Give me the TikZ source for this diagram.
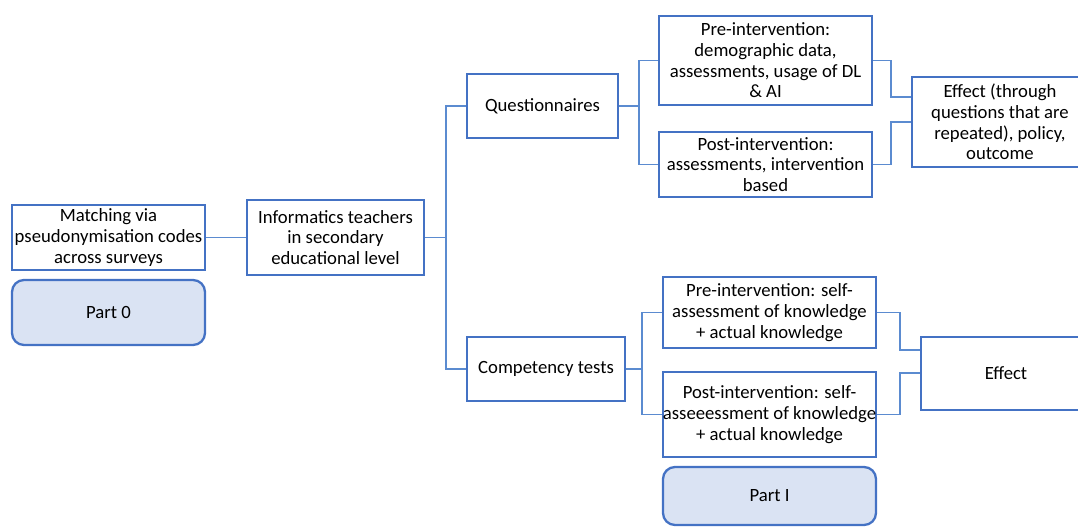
\documentclass[tikz,border=0pt]{standalone}
\usepackage{fontspec}
\setmainfont{Carlito}
\usepackage{tikz}

\definecolor{boxblue}{RGB}{68,114,196}
\definecolor{linkblue}{RGB}{91,139,208}
\definecolor{partfill}{RGB}{218,227,243}

\begin{document}
\begin{tikzpicture}[
		x=1pt, y=-1pt,
		every node/.style={rectangle, draw=boxblue, line width=2.3pt, inner sep=0pt, align=center,
			font=\fontsize{18.7}{20.7}\selectfont},
		partbox/.style={rounded corners=12pt, fill=partfill},
		link/.style={draw=linkblue, line width=1.2pt}
	]
  \useasboundingbox (0,0) rectangle (1078,527);
  \node (match) [minimum width=193pt, minimum height=65pt] at (108.5, 237.5) {Matching via\\pseudonymisation codes\\across surveys};
  \node (part0) [partbox, minimum width=193pt, minimum height=65pt] at (108.5, 312.5) {Part 0};
  \node (teachers) [minimum width=177pt, minimum height=75pt] at (335.5, 237.5) {Informatics teachers\\in secondary\\educational level};
  \node (quest) [minimum width=151pt, minimum height=64pt] at (542.5, 106) {Questionnaires};
  \node (compt) [minimum width=158pt, minimum height=64pt] at (546, 369) {Competency tests};
  \node (preq) [minimum width=213pt, minimum height=89pt] at (765.5, 60.5) {Pre-intervention:\\demographic data,\\assessments, usage of DL\\\& AI};
  \node (postq) [minimum width=213pt, minimum height=65pt] at (765.5, 164.5) {Post-intervention:\\assessments, intervention\\based};
  \node (effq) [minimum width=176pt, minimum height=90pt] at (1000, 122) {Effect (through\\questions that are\\repeated), policy,\\outcome};
  \node (pres) [minimum width=213pt, minimum height=71pt] at (769.5, 312.5) {Pre-intervention: self-\\assessment of knowledge\\+ actual knowledge};
  \node (posts) [minimum width=213pt, minimum height=85pt] at (769.5, 414.5) {Post-intervention: self-\\asseeessment of knowledge\\+ actual knowledge};
  \node (effs) [minimum width=170pt, minimum height=73pt] at (1006, 373.5) {Effect};
  \node (part1) [partbox, minimum width=213pt, minimum height=58pt] at (769.5, 496) {Part I};
  \coordinate (trunk) at (446, 237.5);
  \coordinate (qfork) at (639, 106);
  \coordinate (cfork) at (642, 369);
  \coordinate (qj1) at (891, 97);
  \coordinate (qj2) at (891, 122);
  \coordinate (sj1) at (900, 350);
  \coordinate (sj2) at (900, 373);
  \draw [link] (match) -- (teachers);
  \draw [link] (teachers) -- (trunk);
  \draw [link] (quest.west) -| (trunk) |- (compt.west);
  \draw [link] (quest) -- (qfork);
  \draw [link] (preq.west) -| (qfork) |- (postq.west);
  \draw [link] (compt) -- (cfork);
  \draw [link] (pres.west) -| (cfork) |- (posts.west);
  \draw [link] (preq.east) -| (qj1) -- (qj1 -| effq.west);
  \draw [link] (postq.east) -| (qj2) -- (qj2 -| effq.west);
  \draw [link] (pres.east) -| (sj1) -- (sj1 -| effs.west);
  \draw [link] (posts.east) -| (sj2) -- (sj2 -| effs.west);
\end{tikzpicture}
\end{document}
